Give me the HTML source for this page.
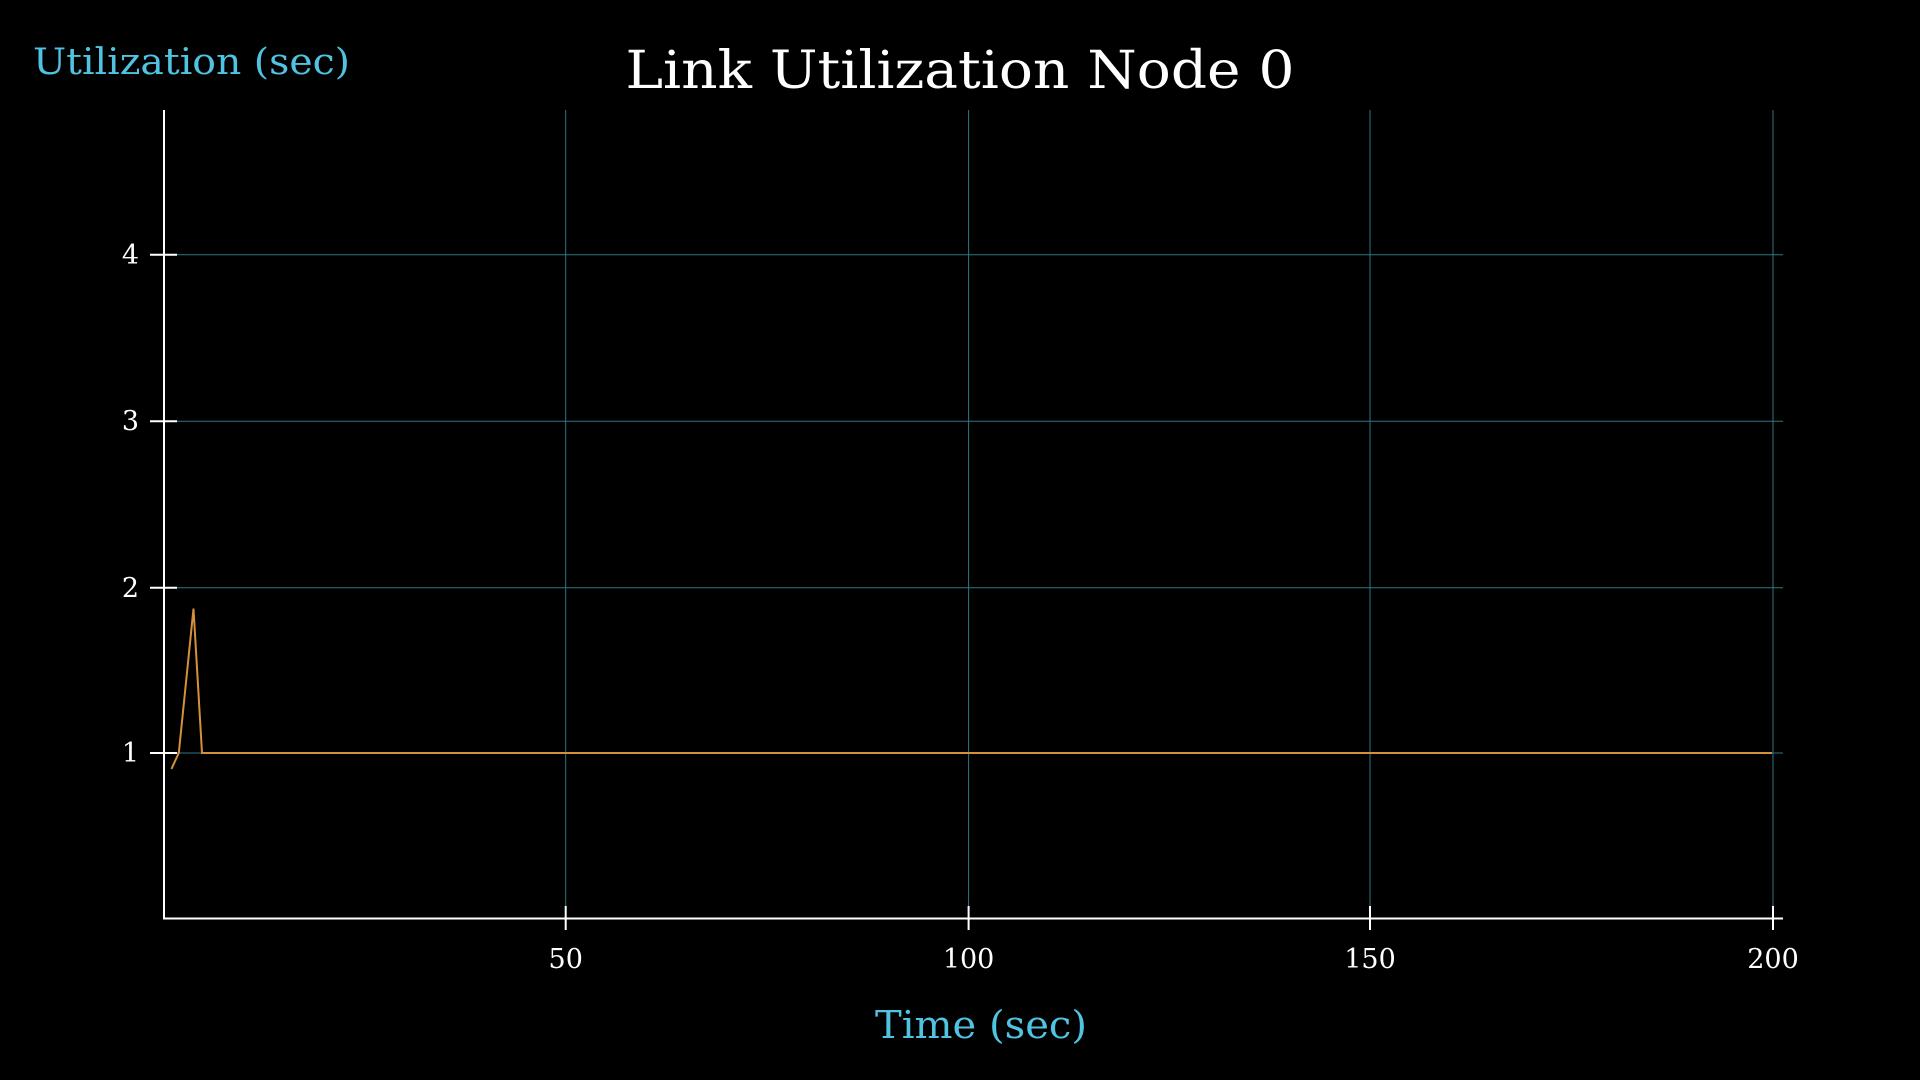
<!DOCTYPE html>
<html><head><meta charset="utf-8"><style>
html,body{margin:0;padding:0;background:#000;width:1920px;height:1080px;overflow:hidden}
text{font-family:"DejaVu Serif","Liberation Serif",serif}
</style></head><body>
<svg width="1920" height="1080" xmlns="http://www.w3.org/2000/svg">
<rect width="1920" height="1080" fill="#000"/>
<g stroke="#327585" stroke-width="1">
<line x1="565.7" y1="110" x2="565.7" y2="918"/>
<line x1="968.6" y1="110" x2="968.6" y2="918"/>
<line x1="1370" y1="110" x2="1370" y2="918"/>
<line x1="1773" y1="110" x2="1773" y2="918"/>
<line x1="164" y1="254.7" x2="1783" y2="254.7"/>
<line x1="164" y1="421.2" x2="1783" y2="421.2"/>
<line x1="164" y1="587.8" x2="1783" y2="587.8"/>
<line x1="164" y1="753" x2="1783" y2="753"/>
</g>
<g stroke="#fff" stroke-width="2">
<line x1="164" y1="110" x2="164" y2="919"/>
<line x1="163" y1="918.5" x2="1783" y2="918.5"/>
<line x1="565.7" y1="906" x2="565.7" y2="930"/>
<line x1="968.6" y1="906" x2="968.6" y2="930"/>
<line x1="1370" y1="906" x2="1370" y2="930"/>
<line x1="1773" y1="906" x2="1773" y2="930"/>
<line x1="150" y1="254.7" x2="177" y2="254.7"/>
<line x1="150" y1="421.2" x2="177" y2="421.2"/>
<line x1="150" y1="587.8" x2="177" y2="587.8"/>
<line x1="150" y1="753" x2="177" y2="753"/>
</g>
<polyline points="171.4,769 178.8,753 193.5,608.6 202,753 1772,753" fill="none" stroke="#d4913a" stroke-width="2"/>
<g fill="#fff" font-size="27" text-anchor="middle">
<text x="565.7" y="968">50</text>
<text x="968.6" y="968">100</text>
<text x="1370" y="968">150</text>
<text x="1773" y="968">200</text>
</g>
<g fill="#fff" font-size="27" text-anchor="end">
<text x="139" y="264">4</text>
<text x="139" y="430">3</text>
<text x="139" y="597">2</text>
<text x="139" y="762">1</text>
</g>
<text x="960" y="88" fill="#fff" font-size="52" text-anchor="middle" textLength="669" lengthAdjust="spacingAndGlyphs">Link Utilization Node 0</text>
<text x="33" y="74" fill="#4fc3e0" font-size="36" textLength="317" lengthAdjust="spacingAndGlyphs">Utilization (sec)</text>
<text x="981" y="1038" fill="#4fc3e0" font-size="38" text-anchor="middle" textLength="212" lengthAdjust="spacingAndGlyphs">Time (sec)</text>
</svg>
</body></html>
